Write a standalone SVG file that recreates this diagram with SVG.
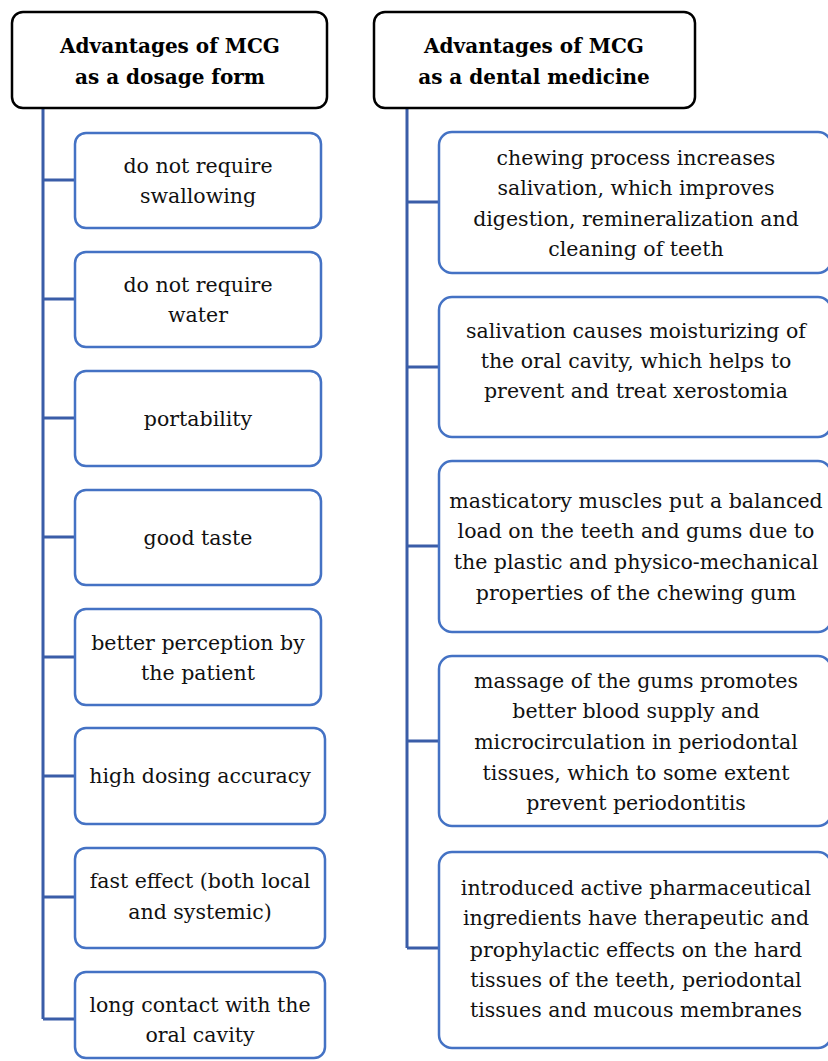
<svg xmlns="http://www.w3.org/2000/svg" width="828" height="1061" viewBox="0 0 828 1061">
<style>
.hdr{fill:#fff;stroke:#000;stroke-width:2.5}
.box{fill:#fff;stroke:#4472C4;stroke-width:2.5}
.ht{font-family:"DejaVu Serif","Liberation Serif",serif;font-weight:bold;font-size:20px;fill:#000;text-anchor:middle}
.t{font-family:"DejaVu Serif","Liberation Serif",serif;font-size:20.5px;fill:#111;text-anchor:middle}
.c{fill:none;stroke:#3A5DA8;stroke-width:3}
</style>
<rect width="828" height="1061" fill="#fff"/>
<g id="connectors">
<path class="c" d="M43,108 V1019 M43,180 H75 M43,299 H75 M43,418 H75 M43,537 H75 M43,657 H75 M43,776 H75 M43,897 H75 M43,1019 H75"/>
<path class="c" d="M407,108 V948 M407,202 H439 M407,367 H439 M407,546 H439 M407,741 H439 M407,948 H439"/>
</g>
<g id="h1"><rect class="hdr" x="12" y="12" width="315" height="96" rx="11"/>
<text class="ht" x="170" y="53">Advantages of MCG</text><text class="ht" x="170" y="84">as a dosage form</text></g>
<g id="h2"><rect class="hdr" x="374" y="12" width="321" height="96" rx="11"/>
<text class="ht" x="534" y="53">Advantages of MCG</text><text class="ht" x="534" y="84">as a dental medicine</text></g>
<g id="l1"><rect class="box" x="75" y="133" width="246" height="95" rx="11"/>
<text class="t" x="198" y="173">do not require</text><text class="t" x="198" y="203">swallowing</text></g>
<g id="l2"><rect class="box" x="75" y="252" width="246" height="95" rx="11"/>
<text class="t" x="198" y="292">do not require</text><text class="t" x="198" y="322">water</text></g>
<g id="l3"><rect class="box" x="75" y="371" width="246" height="95" rx="11"/>
<text class="t" x="198" y="426">portability</text></g>
<g id="l4"><rect class="box" x="75" y="490" width="246" height="95" rx="11"/>
<text class="t" x="198" y="545">good taste</text></g>
<g id="l5"><rect class="box" x="75" y="609" width="246" height="96" rx="11"/>
<text class="t" x="198" y="650">better perception by</text><text class="t" x="198" y="680">the patient</text></g>
<g id="l6"><rect class="box" x="75" y="728" width="250" height="96" rx="11"/>
<text class="t" x="200" y="783">high dosing accuracy</text></g>
<g id="l7"><rect class="box" x="75" y="848" width="250" height="100" rx="11"/>
<text class="t" x="200" y="888">fast effect (both local</text><text class="t" x="200" y="919">and systemic)</text></g>
<g id="l8"><rect class="box" x="75" y="972" width="250" height="86" rx="11"/>
<text class="t" x="200" y="1012">long contact with the</text><text class="t" x="200" y="1042">oral cavity</text></g>
<g id="r1"><rect class="box" x="439" y="132" width="392" height="141" rx="13"/>
<text class="t" x="636" y="165">chewing process increases</text><text class="t" x="636" y="195">salivation, which improves</text><text class="t" x="636" y="226">digestion, remineralization and</text><text class="t" x="636" y="256">cleaning of teeth</text></g>
<g id="r2"><rect class="box" x="439" y="297" width="392" height="140" rx="13"/>
<text class="t" x="636" y="338">salivation causes moisturizing of</text><text class="t" x="636" y="368">the oral cavity, which helps to</text><text class="t" x="636" y="398">prevent and treat xerostomia</text></g>
<g id="r3"><rect class="box" x="439" y="461" width="392" height="171" rx="13"/>
<text class="t" x="636" y="508">masticatory muscles put a balanced</text><text class="t" x="636" y="538">load on the teeth and gums due to</text><text class="t" x="636" y="569">the plastic and physico-mechanical</text><text class="t" x="636" y="600">properties of the chewing gum</text></g>
<g id="r4"><rect class="box" x="439" y="656" width="392" height="170" rx="13"/>
<text class="t" x="636" y="688">massage of the gums promotes</text><text class="t" x="636" y="718">better blood supply and</text><text class="t" x="636" y="749">microcirculation in periodontal</text><text class="t" x="636" y="780">tissues, which to some extent</text><text class="t" x="636" y="810">prevent periodontitis</text></g>
<g id="r5"><rect class="box" x="439" y="852" width="392" height="196" rx="13"/>
<text class="t" x="636" y="895">introduced active pharmaceutical</text><text class="t" x="636" y="925">ingredients have therapeutic and</text><text class="t" x="636" y="957">prophylactic effects on the hard</text><text class="t" x="636" y="987">tissues of the teeth, periodontal</text><text class="t" x="636" y="1017">tissues and mucous membranes</text></g>
</svg>
